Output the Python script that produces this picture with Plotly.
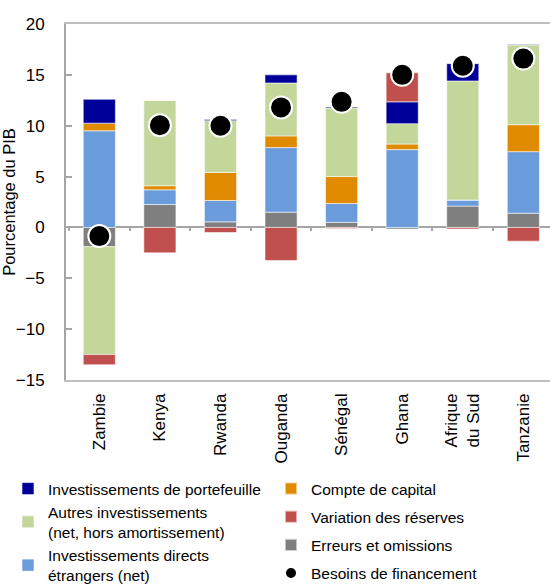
import plotly.graph_objects as go

countries = ["Zambie", "Kenya", "Rwanda", "Ouganda", "Sénégal", "Ghana", "Afrique<br>du Sud", "Tanzanie"]
errors = [-1.9, 2.25, 0.55, 1.5, 0.5, -0.15, 2.1, 1.4]
fdi = [9.5, 1.45, 2.1, 6.35, 1.85, 7.65, 0.6, 6.05]
capital = [0.75, 0.4, 2.75, 1.15, 2.65, 0.55, 0.0, 2.65]
other = [-10.6, 8.4, 5.1, 5.2, 6.75, 2.0, 11.7, 7.85]
portfolio = [2.35, 0.0, 0.1, 0.8, 0.08, 2.15, 1.7, 0.05]
reserves = [-1.0, -2.5, -0.5, -3.25, -0.1, 2.85, -0.15, -1.35]
needs = [-0.85, 10.05, 10.0, 11.8, 12.35, 15.0, 15.9, 16.6]

y_range = [-15, 20]
y_ticks = [-15, -10, -5, 0, 5, 10, 15, 20]

FONT = "Liberation Sans, Arial, sans-serif"
AX = "#A6A6A6"

series = [
    ("Erreurs et omissions", errors, "#7F7F7F", "legend2", 3),
    ("Investissements directs<br>étrangers (net)", fdi, "#6A9BDB", "legend", 3),
    ("Compte de capital", capital, "#E08A00", "legend2", 1),
    ("Autres investissements<br>(net, hors amortissement)", other, "#C4D79B", "legend", 2),
    ("Investissements de portefeuille", portfolio, "#000099", "legend", 1),
    ("Variation des réserves", reserves, "#C0504D", "legend2", 2),
]

fig = go.Figure()
for name, vals, col, leg, rank in series:
    fig.add_trace(go.Bar(
        x=countries, y=vals, name=name, width=0.53,
        marker=dict(color=col, line=dict(color="rgba(255,255,255,0.55)", width=1)),
        legend=leg, legendrank=rank, legendgroup=name,
    ))

fig.add_trace(go.Scatter(
    x=countries, y=needs, mode="markers", name="Besoins de financement",
    xaxis="x2", cliponaxis=False,
    marker=dict(color="black", size=22, line=dict(color="white", width=2)),
    legend="legend2", legendrank=4, legendgroup="needs",
))

L, T, B = 66, 24, 204
PW, PH = 550 - L, 584 - T - B
LEG_TOP = 472

zero_pos = (0 - y_range[0]) / (y_range[1] - y_range[0]) + 2.5 / PH
x_range = [-0.55, 7.44]

fig.update_layout(
    width=550, height=584,
    margin=dict(l=L, r=0, t=T, b=B, autoexpand=False),
    barmode="relative",
    plot_bgcolor="white", paper_bgcolor="white",
    font=dict(family=FONT, size=17, color="black"),
    xaxis=dict(
        type="category", range=x_range, showline=True, mirror=True,
        linecolor="#C0C0C0", linewidth=1.5, ticks="", showgrid=False,
        tickangle=-90, tickfont=dict(size=17), ticklabelstandoff=5,
        automargin=False,
    ),
    xaxis2=dict(
        type="category", overlaying="x", anchor="free", position=zero_pos,
        range=x_range, tickson="boundaries", ticks="outside", ticklen=5,
        tickwidth=2, tickcolor=AX, showticklabels=False, showline=False,
        showgrid=False, zeroline=False, side="bottom", automargin=False,
    ),
    yaxis=dict(
        range=y_range, tickvals=y_ticks, showgrid=False,
        showline=True, linecolor=AX, linewidth=2, ticks="inside",
        ticklen=6, tickwidth=2, tickcolor=AX, ticklabelstandoff=16,
        zeroline=True, zerolinecolor=AX, zerolinewidth=2,
        tickfont=dict(size=17), automargin=False,
        title=dict(text="Pourcentage du PIB", font=dict(size=16.5), standoff=4),
    ),
    legend=dict(
        x=(8 - L) / PW, y=(T + PH - LEG_TOP) / PH, xanchor="left", yanchor="top",
        traceorder="normal", font=dict(size=15.5), bgcolor="rgba(0,0,0,0)",
        tracegroupgap=0,
    ),
    legend2=dict(
        x=(271 - L) / PW, y=(T + PH - LEG_TOP) / PH, xanchor="left", yanchor="top",
        traceorder="grouped", font=dict(size=15.5), bgcolor="rgba(0,0,0,0)",
        tracegroupgap=5, itemsizing="constant",
    ),
)

fig.write_html("out.html", config={"displayModeBar": False},
               post_script="document.body.style.margin='0';")
